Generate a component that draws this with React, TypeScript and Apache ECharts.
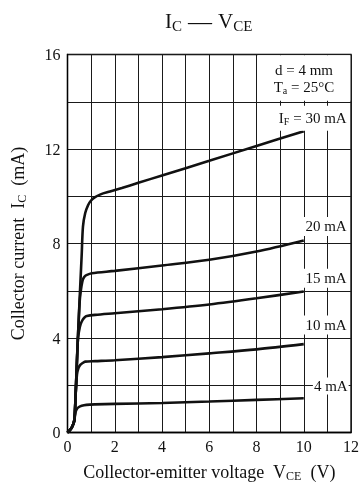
import React, { useEffect, useRef } from 'react';
import * as echarts from 'echarts';

const serif = '"Liberation Serif", "DejaVu Serif", serif';

// tick label values
const xTickLabels = [0, 2, 4, 6, 8, 10, 12];
const yTickLabels = [0, 4, 8, 12, 16];

// curve names
const curveNames = ['30 mA', '20 mA', '15 mA', '10 mA', '4 mA'];

// I_F = 30 mA
const v30 = [0, 0.16, 0.26, 0.3, 0.36, 0.44, 0.52, 0.6, 0.655, 0.75, 0.87, 0.98, 1.15, 1.4, 1.8, 2.3, 3, 4, 6, 8, 10];
const i30 = [0, 0.18, 0.4, 0.6, 2.0, 4.0, 5.8, 7.5, 8.72, 9.29, 9.62, 9.8, 9.95, 10.08, 10.2, 10.35, 10.57, 10.88, 11.5, 12.13, 12.75];
// I_F = 20 mA
const v20 = [0, 0.16, 0.26, 0.3, 0.36, 0.44, 0.52, 0.57, 0.62, 0.66, 0.72, 0.8, 1.03, 2, 4, 6, 8, 10];
const i20 = [0, 0.18, 0.4, 0.6, 2.0, 4.0, 5.6, 6.05, 6.35, 6.5, 6.6, 6.66, 6.74, 6.84, 7.07, 7.31, 7.66, 8.13];
// I_F = 15 mA
const v15 = [0, 0.16, 0.26, 0.3, 0.36, 0.44, 0.5, 0.56, 0.64, 0.72, 0.82, 1.17, 2, 4, 6, 8, 10];
const i15 = [0, 0.18, 0.4, 0.6, 2.0, 3.95, 4.35, 4.6, 4.77, 4.87, 4.93, 4.98, 5.05, 5.22, 5.42, 5.68, 5.97];
// I_F = 10 mA
const v10 = [0, 0.16, 0.26, 0.3, 0.34, 0.4, 0.46, 0.54, 0.64, 0.75, 1.17, 2, 4, 6, 8, 10];
const i10 = [0, 0.18, 0.4, 0.6, 1.5, 2.45, 2.72, 2.86, 2.94, 3.0, 3.02, 3.06, 3.19, 3.35, 3.52, 3.74];
// I_F = 4 mA
const v4 = [0, 0.16, 0.26, 0.3, 0.34, 0.4, 0.47, 0.6, 0.8, 1.17, 2, 4, 6, 8, 10];
const i4 = [0, 0.18, 0.4, 0.6, 0.86, 1.0, 1.07, 1.13, 1.17, 1.19, 1.21, 1.25, 1.31, 1.38, 1.45];

const curves = [
  { v: v30, i: i30, label: '{m|I}{s|F}{m| = 30 mA}', lift: 0.55, pad: [4, 2, 4, 3] },
  { v: v20, i: i20, label: '{m|20 mA}', lift: 0.59, pad: [1, 2, 1, 2] },
  { v: v15, i: i15, label: '{m|15 mA}', lift: 0.56, pad: [1, 2, 1, 2] },
  { v: v10, i: i10, label: '{m|10 mA}', lift: 0.81, pad: [1, 2, 1, 2] },
  { v: v4, i: i4, label: '{m|4 mA}', lift: 0.52, pad: [0, 1, 0, 1] },
];

const labelRich = {
  m: { fontFamily: serif, fontSize: 15, color: '#111', lineHeight: 17 },
  s: { fontFamily: serif, fontSize: 10, color: '#111', lineHeight: 6, verticalAlign: 'bottom' },
};

const gridLine = { color: '#1a1a1a', width: 1 };

export default function App() {
  const ref = useRef<HTMLDivElement>(null);
  useEffect(() => {
    const chart = echarts.init(ref.current!, null, { renderer: 'svg' });
    const series: any[] = curves.map((c, k) => ({
      name: curveNames[k],
      type: 'line',
      data: c.v.map((x, j) => [x, c.i[j]]),
      symbol: 'none',
      showSymbol: false,
      smooth: 0.3,
      lineStyle: { color: '#111', width: 2.6 },
      z: 3,
      silent: true,
      markPoint: {
        symbol: 'circle',
        symbolSize: 0,
        silent: true,
        data: [
          {
            coord: [11.9, c.i[c.i.length - 1] + c.lift],
            label: {
              show: true,
              position: 'left',
              distance: 0,
              formatter: c.label,
              backgroundColor: '#fff',
              padding: c.pad,
              rich: labelRich,
            },
          },
        ],
      },
    }));
    series.push({
      type: 'line',
      data: [],
      silent: true,
      markArea: {
        silent: true,
        itemStyle: { color: '#fff', opacity: 1, borderWidth: 0 },
        label: {
          show: true,
          position: 'inside',
          formatter: '{m|d = 4 mm}\n{m|T}{s|a}{m| = 25°C}',
          rich: labelRich,
        },
        data: [[{ xAxis: 8.05, yAxis: 15.97 }, { xAxis: 11.97, yAxis: 14.04 }]],
      },
    });
    chart.setOption({
      animation: false,
      title: {
        text: '{m|I}{s|C}{d| — }{m|V}{s|CE}',
        left: 165,
        top: 9,
        padding: 0,
        textStyle: {
          fontWeight: 'normal',
          rich: {
            m: { fontFamily: serif, fontSize: 21, fontWeight: 'normal', color: '#111', lineHeight: 24 },
            d: { fontFamily: serif, fontSize: 24, fontWeight: 'normal', color: '#111', lineHeight: 24 },
            s: { fontFamily: serif, fontSize: 15, fontWeight: 'normal', color: '#111', lineHeight: 16, verticalAlign: 'bottom' },
          },
        },
      },
      grid: {
        left: 67.5,
        right: 12,
        top: 54.5,
        bottom: 55.5,
        show: true,
        borderColor: '#000',
        borderWidth: 1.3,
        backgroundColor: 'transparent',
      },
      xAxis: {
        type: 'value',
        min: 0,
        max: 12,
        interval: 2,
        axisLine: { show: true, lineStyle: { color: '#000', width: 1.3 } },
        axisTick: { show: false },
        minorTick: { show: false, splitNumber: 2 },
        splitLine: { show: true, lineStyle: gridLine },
        minorSplitLine: { show: true, lineStyle: gridLine },
        axisLabel: {
          margin: 6,
          fontFamily: serif,
          fontSize: 16,
          color: '#111',
          formatter: (val: number) => (xTickLabels.includes(val) ? String(val) : ''),
        },
        name: '{m|Collector-emitter voltage  V}{s|CE}{m|  (V)}',
        nameLocation: 'middle',
        nameGap: 29,
        nameTextStyle: {
          rich: {
            m: { fontFamily: serif, fontSize: 18, color: '#111', lineHeight: 20 },
            s: { fontFamily: serif, fontSize: 12, color: '#111', lineHeight: 6, verticalAlign: 'bottom' },
          },
        },
      },
      yAxis: {
        type: 'value',
        min: 0,
        max: 16,
        interval: 4,
        axisLine: { show: true, lineStyle: { color: '#000', width: 1.3 } },
        axisTick: { show: false },
        minorTick: { show: false, splitNumber: 2 },
        splitLine: { show: true, lineStyle: gridLine },
        minorSplitLine: { show: true, lineStyle: gridLine },
        axisLabel: {
          margin: 7,
          fontFamily: serif,
          fontSize: 16,
          color: '#111',
          formatter: (val: number) => (yTickLabels.includes(val) ? String(val) : ''),
        },
        name: '{m|Collector current  I}{s|C}{m|  (mA)}',
        nameLocation: 'middle',
        nameGap: 40,
        nameRotate: 90,
        nameTextStyle: {
          rich: {
            m: { fontFamily: serif, fontSize: 18, color: '#111', lineHeight: 20 },
            s: { fontFamily: serif, fontSize: 12, color: '#111', lineHeight: 6, verticalAlign: 'bottom' },
          },
        },
      },
      series,
    });
    return () => chart.dispose();
  }, []);
  return <div ref={ref} style={{ position: 'fixed', left: 0, top: 0, width: 363, height: 488 }} />;
}
